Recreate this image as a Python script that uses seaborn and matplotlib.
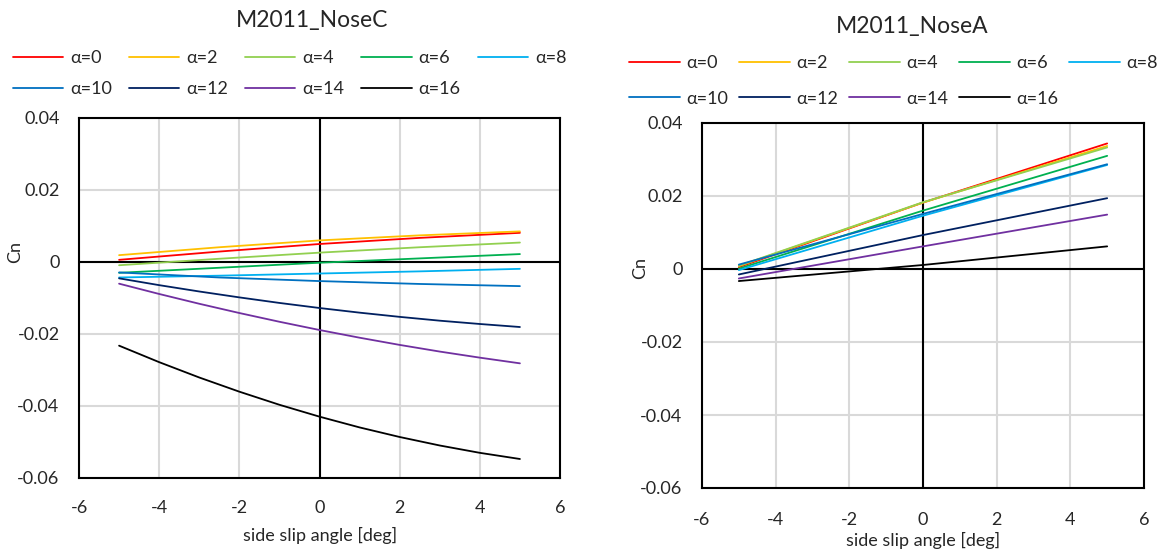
import numpy as np
import pandas as pd
import matplotlib
matplotlib.use("Agg")
import matplotlib.pyplot as plt
import seaborn as sns
from matplotlib.lines import Line2D

sns.set_theme(style="white")
plt.rcParams['font.family'] = ['Lato', 'DejaVu Sans']

# ---------------- data ----------------
labels = ["α=0", "α=2", "α=4", "α=6", "α=8", "α=10", "α=12", "α=14", "α=16"]
colors = ["#FF0000", "#FFC000", "#92D050", "#00B050", "#00B0F0",
          "#0070C0", "#002060", "#7030A0", "#000000"]

# M2011_NoseC
beta_c = [-5, -2.5, 0, 2.5, 5]
beta_c_fine = [-5, -4, -3, -2, -1, 0, 1, 2, 3, 4, 5]
cn_c_a0 = [0.0006, 0.0029, 0.0050, 0.0067, 0.0081]
cn_c_a2 = [0.0019, 0.0041, 0.0060, 0.0074, 0.0085]
cn_c_a4 = [-0.0009, 0.0009, 0.0026, 0.0041, 0.0054]
cn_c_a6 = [-0.0030, -0.0016, -0.0002, 0.0010, 0.0022]
cn_c_a8 = [-0.0043, -0.0038, -0.0032, -0.0026, -0.0019]
cn_c_a10 = [-0.0029, -0.0043, -0.0053, -0.0061, -0.0067]
cn_c_a12 = [-0.00454, -0.00643, -0.00819, -0.00983, -0.01137, -0.01278,
            -0.01407, -0.01524, -0.01630, -0.01722, -0.01806]
cn_c_a14 = [-0.00602, -0.00888, -0.01160, -0.01417, -0.01660, -0.01889,
            -0.02103, -0.02303, -0.02488, -0.02657, -0.02815]
cn_c_a16 = [-0.02324, -0.02782, -0.03208, -0.03602, -0.03966, -0.04296,
            -0.04595, -0.04861, -0.05097, -0.05301, -0.05472]

# M2011_NoseA
beta_a = [-5, 0, 5]
cn_a_a0 = [0.0005, 0.0182, 0.0344]
cn_a_a2 = [0.0008, 0.0182, 0.0337]
cn_a_a4 = [0.0009, 0.0183, 0.0333]
cn_a_a6 = [0.0001, 0.0160, 0.0310]
cn_a_a8 = [-0.0003, 0.0146, 0.0285]
cn_a_a10 = [0.0012, 0.0151, 0.0287]
cn_a_a12 = [-0.0015, 0.0093, 0.0194]
cn_a_a14 = [-0.0026, 0.0062, 0.0149]
cn_a_a16 = [-0.0033, 0.0011, 0.0062]

series_c = [(beta_c, cn_c_a0), (beta_c, cn_c_a2), (beta_c, cn_c_a4),
            (beta_c, cn_c_a6), (beta_c, cn_c_a8), (beta_c, cn_c_a10),
            (beta_c_fine, cn_c_a12), (beta_c_fine, cn_c_a14), (beta_c_fine, cn_c_a16)]
series_a = [(beta_a, s) for s in [cn_a_a0, cn_a_a2, cn_a_a4, cn_a_a6, cn_a_a8,
                                   cn_a_a10, cn_a_a12, cn_a_a14, cn_a_a16]]

x_ticks = [-6, -4, -2, 0, 2, 4, 6]
y_ticks = [-0.06, -0.04, -0.02, 0, 0.02, 0.04]
y_ticklabels = ["-0.06", "-0.04", "-0.02", "0", "0.02", "0.04"]


def to_long(series):
    rows = []
    for lab, (xs, ys) in zip(labels, series):
        for x, y in zip(xs, ys):
            rows.append({"beta": x, "Cn": y, "alpha": lab})
    return pd.DataFrame(rows)


W, H = 1166, 551
fig = plt.figure(figsize=(W / 100, H / 100), dpi=100)
fig.patch.set_facecolor("white")

# axes boxes in pixels: (left, top, right, bottom)
box1 = (79, 118, 560, 478)
box2 = (702, 123, 1144, 488)


def px_axes(b):
    l, t, r, bt = b
    return fig.add_axes([l / W, 1 - bt / H, (r - l) / W, (bt - t) / H])


ax1 = px_axes(box1)
ax2 = px_axes(box2)

palette = dict(zip(labels, colors))
fs = 13
txt = "#262626"

# (ax, box, series, xtick pad, ylabel centre px, xlabel centre px)
specs = [(ax1, box1, series_c, 15.5, (15, 252), (320, 535)),
         (ax2, box2, series_a, 17, (640, 268), (923, 540))]

for ax, box, series, xpad, ylab, xlab in specs:
    df = to_long(series)
    sns.lineplot(data=df, x="beta", y="Cn", hue="alpha", palette=palette,
                 hue_order=labels, ax=ax, linewidth=1.3, legend=False,
                 estimator=None, sort=True, zorder=3)
    ax.set_xlim(-6, 6)
    ax.set_ylim(-0.06, 0.04)
    ax.set_xticks(x_ticks)
    ax.set_xticklabels([str(v) for v in x_ticks])
    ax.set_yticks(y_ticks)
    ax.set_yticklabels(y_ticklabels)
    ax.grid(True, color="#D9D9D9", linewidth=1.5, zorder=0)
    ax.set_axisbelow(True)
    ax.axhline(0, color="black", linewidth=1.5, zorder=2)
    ax.axvline(0, color="black", linewidth=1.5, zorder=2)
    for sp in ax.spines.values():
        sp.set_color("black")
        sp.set_linewidth(1.5)
    ax.tick_params(axis="x", length=0, labelsize=fs, colors=txt, pad=xpad)
    ax.tick_params(axis="y", length=0, labelsize=fs, colors=txt, pad=14)
    l, t, r, b = box
    ax.set_xlabel("side slip angle [deg]", fontsize=fs, color=txt)
    ax.xaxis.set_label_coords((xlab[0] - l) / (r - l), (b - xlab[1]) / (b - t))
    ax.xaxis.label.set_va("center")
    ax.set_ylabel("Cn", fontsize=fs, color=txt)
    ax.yaxis.set_label_coords((ylab[0] - l) / (r - l), (b - ylab[1]) / (b - t))
    ax.yaxis.label.set_va("center")
    ax.yaxis.label.set_ha("center")

# titles
fig.text(312 / W, 1 - 20 / H, "M2011_NoseC", ha="center", va="center", fontsize=16.5, color=txt)
fig.text(912 / W, 1 - 26 / H, "M2011_NoseA", ha="center", va="center", fontsize=16.5, color=txt)

# legends (row-major order as in the reference)
order = [0, 5, 1, 6, 2, 7, 3, 8, 4]
handles = [Line2D([0], [0], color=colors[i], lw=1.3) for i in order]
leg_labels = [labels[i] for i in order]


def add_legend(x0, ytop, spacing, hl, tp, colsp):
    leg = fig.legend(handles, leg_labels, ncol=5, loc="upper left",
                     bbox_to_anchor=(x0 / W, 1 - ytop / H), frameon=False,
                     fontsize=fs, handlelength=hl, handletextpad=tp,
                     columnspacing=colsp, labelspacing=spacing,
                     borderpad=0, borderaxespad=0)
    for t in leg.get_texts():
        t.set_color(txt)
    return leg


add_legend(13, 50, 0.85, 2.78, 0.39, 0.94)
add_legend(629, 55, 1.08, 2.83, 0.33, 0.61)

fig.savefig("out.png", dpi=100, facecolor="white")
